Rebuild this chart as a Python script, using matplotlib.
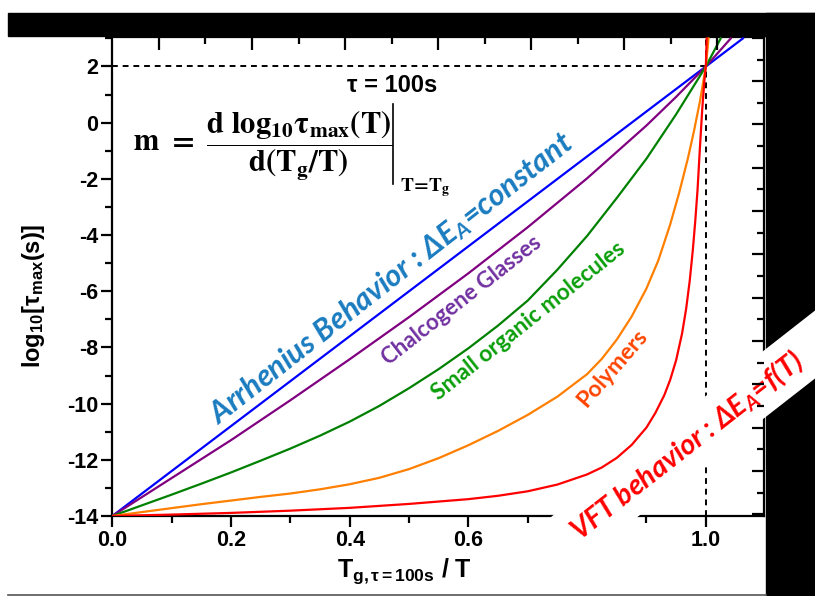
import numpy as np
import matplotlib
matplotlib.use('Agg')
import matplotlib.pyplot as plt
from matplotlib.patches import Rectangle, Polygon
from matplotlib.lines import Line2D
from matplotlib.ticker import MultipleLocator, FormatStrFormatter, FixedLocator

plt.rcParams['font.family'] = ['Liberation Sans', 'DejaVu Sans']
plt.rcParams['font.weight'] = 'bold'
plt.rcParams['axes.unicode_minus'] = False
plt.rcParams['mathtext.fontset'] = 'custom'
plt.rcParams['mathtext.bf'] = 'Liberation Sans:bold'
plt.rcParams['mathtext.rm'] = 'Liberation Sans:bold'
plt.rcParams['mathtext.it'] = 'Lato:italic:bold'

# curves: x = Tg/T, y = log10(tau_max)
x_arrh = [0, 0.2, 0.4, 0.6, 0.8, 1.0, 1.0625]
y_arrh = [-14, -10.8, -7.6, -4.4, -1.2, 2.0, 3.0]

x_chalc = [0, 0.1, 0.2, 0.3, 0.4, 0.5, 0.6, 0.7, 0.8, 0.9, 0.95, 1.0, 1.042]
y_chalc = [-14, -12.65, -11.3, -9.88, -8.42, -6.92, -5.36, -3.72, -1.98, -0.1, 0.92, 2.0, 3.0]

x_small = [0, 0.05, 0.1, 0.15, 0.2, 0.25, 0.3, 0.35, 0.4, 0.45, 0.5, 0.55, 0.6, 0.65, 0.7,
           0.75, 0.8, 0.85, 0.9, 0.95, 1.0, 1.025]
y_small = [-14, -13.62, -13.24, -12.85, -12.45, -12.03, -11.6, -11.14, -10.64, -10.08, -9.45,
           -8.77, -8.03, -7.22, -6.33, -5.23, -4.03, -2.68, -1.28, 0.3, 2.0, 3.0]

x_poly = [0, 0.05, 0.1, 0.15, 0.2, 0.25, 0.3, 0.35, 0.4, 0.45, 0.5, 0.55, 0.6, 0.65, 0.7, 0.75,
          0.8, 0.825, 0.85, 0.875, 0.9, 0.92, 0.94, 0.955, 0.97, 0.98, 0.99, 1.0, 1.0045]
y_poly = [-14, -13.86, -13.72, -13.58, -13.45, -13.32, -13.2, -13.05, -12.87, -12.64, -12.33,
          -11.94, -11.48, -10.97, -10.4, -9.75, -8.95, -8.4, -7.72, -6.9, -5.9, -4.9, -3.62,
          -2.5, -1.25, -0.3, 0.75, 2.0, 3.0]

x_vft = [0, 0.1, 0.2, 0.3, 0.4, 0.5, 0.6, 0.65, 0.7, 0.75, 0.8, 0.825, 0.85, 0.875, 0.9, 0.915,
         0.93, 0.94, 0.95, 0.96, 0.967, 0.973, 0.978, 0.982, 0.986, 0.99, 0.994, 0.998, 1.0, 1.0015]
y_vft = [-14, -13.95, -13.89, -13.81, -13.71, -13.57, -13.4, -13.28, -13.12, -12.88, -12.52,
         -12.27, -11.93, -11.47, -10.85, -10.33, -9.7, -9.15, -8.45, -7.5, -6.6, -5.6, -4.55,
         -3.55, -2.4, -0.9, 0.5, 1.6, 2.0, 3.0]

tau_ref = 2.0   # log10(100 s)
tg_ref = 1.0

curves = [
    (x_arrh, y_arrh, '#0000ff'),
    (x_chalc, y_chalc, '#800080'),
    (x_small, y_small, '#008000'),
    (x_poly, y_poly, '#ff7f00'),
    (x_vft, y_vft, '#ff0000'),
]

W, H = 815, 596


def fx(px):
    return px / W


def fy(py):
    return 1 - py / H


fig = plt.figure(figsize=(W / 100, H / 100), dpi=100)

# black frame pieces around the plot
fig.add_artist(Rectangle((fx(8), fy(36)), 1, 23 / H, color='black', zorder=-1,
                         transform=fig.transFigure))
fig.add_artist(Rectangle((fx(766), 0), 1, fy(13), color='black', zorder=-1,
                         transform=fig.transFigure))
fig.add_artist(Line2D([fx(8), fx(766)], [fy(595), fy(595)], color='#555555', lw=1.2,
                      zorder=-1, transform=fig.transFigure))

ax = fig.add_axes([fx(112.3), fy(516), (764 - 112.3) / W, (516 - 37) / H])

for xs, ys, c in curves:
    ax.plot(xs, ys, color=c, lw=1.6, zorder=3, solid_joinstyle='round')

ax.plot([0, tg_ref], [tau_ref, tau_ref], color='black', ls=(0, (3, 2.5)), lw=1.4, zorder=2)
ax.plot([tg_ref, tg_ref], [-14, 3.05], color='black', ls=(0, (3, 2.5)), lw=1.4, zorder=2)

ax.set_xlim(0, 1.098)
ax.set_ylim(-14, 3.05)
ax.xaxis.set_major_locator(MultipleLocator(0.2))
ax.xaxis.set_minor_locator(MultipleLocator(0.1))
ax.xaxis.set_major_formatter(FormatStrFormatter('%.1f'))
ax.yaxis.set_major_locator(MultipleLocator(2))
ax.yaxis.set_minor_locator(MultipleLocator(1))
ax.tick_params(which='major', direction='out', length=8, width=1.6, labelsize=15.5, pad=2)
ax.tick_params(which='minor', direction='out', length=5, width=1.6)
for lab in ax.get_xticklabels() + ax.get_yticklabels():
    lab.set_fontweight('bold')
for s in ax.spines.values():
    s.set_linewidth(1.6)

ax.set_ylabel(r'$\mathbf{log_{10}[τ_{max}(s)]}$', fontsize=17)
ax.yaxis.set_label_coords(-0.1, 0.46)
ax.set_xlabel(r'$\mathbf{T_{g,τ{=}100s}}$ / T', fontsize=18, fontweight='bold')
ax.xaxis.set_label_coords(0.449, -0.085)

# top and right axes carry their own inward ticks
axt = ax.twiny()
axt.set_xlim(0, 14)
axt.xaxis.set_major_locator(FixedLocator(np.arange(1, 14, 2)))
axt.xaxis.set_minor_locator(FixedLocator(np.arange(2, 14, 2)))
axt.tick_params(axis='x', which='major', direction='in', length=9, width=1.6, labeltop=False)
axt.tick_params(axis='x', which='minor', direction='in', length=5, width=1.6)
for s in ['left', 'right', 'bottom', 'top']:
    axt.spines[s].set_visible(False)

axr = ax.twinx()
axr.set_ylim(-0.08, 22.04)
axr.yaxis.set_major_locator(FixedLocator(np.arange(0, 23, 2)))
axr.yaxis.set_minor_locator(FixedLocator(np.arange(1, 22, 2)))
axr.tick_params(axis='y', which='major', direction='in', length=9, width=1.6, labelright=False)
axr.tick_params(axis='y', which='minor', direction='in', length=5, width=1.6)
for s in ['left', 'right', 'bottom', 'top']:
    axr.spines[s].set_visible(False)

# white strip carrying the VFT label
band = [(505, 553), (840, 291), (840, 359), (540, 593)]
ax.add_patch(Polygon([(fx(a), fy(b)) for a, b in band], closed=True, facecolor='white',
                     edgecolor='none', transform=fig.transFigure, clip_on=False, zorder=2.7))

ax.text(fx(687), fy(445), 'VFT behavior : Δ$E_A$=f(T)', transform=fig.transFigure,
        rotation=38, rotation_mode='anchor', ha='center', va='center', color='#ff0000',
        fontsize=20.5, family=['Lato', 'DejaVu Sans'], style='italic', weight='bold',
        zorder=6, clip_on=False)

ax.text(0.4696, -5.54, 'Arrhenius Behavior : Δ$E_A$=constant', rotation=38,
        rotation_mode='anchor', ha='center', va='center', color='#1a7cc0', fontsize=22,
        family=['Lato', 'DejaVu Sans'], style='italic', weight='bold', zorder=4)
ax.text(0.5887, -6.32, 'Chalcogene Glasses', rotation=38, rotation_mode='anchor',
        ha='center', va='center', color='#7030a0', fontsize=16,
        family=['Lato', 'DejaVu Sans'], weight='bold', zorder=4)
ax.text(0.7005, -7.06, 'Small organic molecules', rotation=38.5, rotation_mode='anchor',
        ha='center', va='center', color='#0a9e0a', fontsize=16.4,
        family=['Lato', 'DejaVu Sans'], weight='bold', zorder=4)
ax.text(0.843, -8.75, 'Polymers', rotation=49, rotation_mode='anchor',
        ha='center', va='center', color='#ff4500', fontsize=16.5,
        family=['Lato', 'DejaVu Sans'], weight='bold', zorder=4)

ax.text(0.471, 1.32, 'τ = 100s', ha='center', va='center', fontsize=17, fontweight='bold')

# slope definition m, with the evaluation bar drawn as a thin line
formula = (r'$\mathbf{m}\ =\ \dfrac{\mathbf{d\ log_{10}τ_{max}(T)}}'
           r'{\mathbf{d}\left(\mathbf{T_g/T}\right)}$')
ax.text(0.035, -0.8, formula, math_fontfamily='stix', fontsize=22, ha='left',
        va='center', color='black')
ax.plot([0.473, 0.473], [0.65, -2.2], color='black', lw=1.2)
ax.text(0.484, -2.3, r'$\mathbf{T\!=\!T_g}$', math_fontfamily='stix', fontsize=14,
        ha='left', va='center', color='black')

fig.savefig('out.png', dpi=100)
